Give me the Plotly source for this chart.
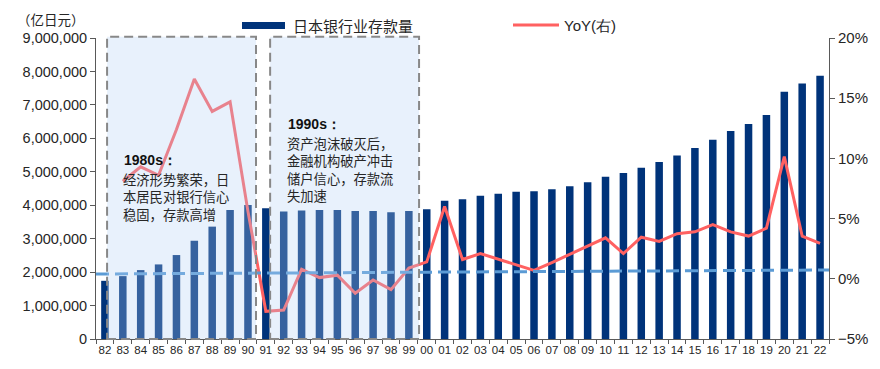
import plotly.graph_objects as go

years = ["82","83","84","85","86","87","88","89","90","91","92","93","94","95","96","97","98","99",
         "00","01","02","03","04","05","06","07","08","09","10","11","12","13","14","15","16","17",
         "18","19","20","21","22"]

deposits = [1740000, 1880000, 2060000, 2230000, 2510000, 2940000, 3360000, 3860000, 4010000,
            3910000, 3810000, 3840000, 3860000, 3860000, 3830000, 3830000, 3790000, 3830000,
            3880000, 4130000, 4180000, 4280000, 4340000, 4400000, 4420000, 4480000, 4570000,
            4690000, 4850000, 4960000, 5120000, 5290000, 5490000, 5710000, 5960000, 6220000,
            6430000, 6700000, 7390000, 7640000, 7870000]

yoy = [None, 8.1, 9.3, 8.6, 12.4, 16.6, 13.9, 14.7, 5.6, -2.7, -2.6, 0.8, 0.1, 0.3, -1.2, -0.1,
       -0.9, 0.9, 1.4, 6.0, 1.6, 2.1, 1.65, 1.15, 0.7, 1.35, 2.05, 2.7, 3.4, 2.1, 3.45, 3.1,
       3.75, 3.9, 4.5, 3.9, 3.55, 4.2, 10.15, 3.55, 2.95]

bar_name = "日本银行业存款量"
line_name = "YoY(右)"
unit_label = "（亿日元）"
note_80s_title = "1980s："
note_80s_lines = ["经济形势繁荣，日", "本居民对银行信心", "稳固，存款高增"]
note_90s_title = "1990s："
note_90s_lines = ["资产泡沫破灭后，", "金融机构破产冲击", "储户信心，存款流", "失加速"]

NAVY = "#00337A"
RED = "#FF6161"
AX = "#595959"
TXT = "#262626"
FONT = "Liberation Sans, Arial, sans-serif"
CJK = "Noto Sans CJK SC, sans-serif"

# page offset (default body margin) and plot-area geometry in page pixels
OFF = 8
W, H = 880 - OFF, 369 - OFF
L, R, T, B = 96, 829, 38, 339
def px_x(p):
    return (p - L) / (R - L)
def px_y(p):
    return (B - p) / (B - T)

fig = go.Figure()
fig.add_trace(go.Bar(x=years, y=deposits, name=bar_name, marker_color=NAVY,
                     marker_line_width=0, yaxis="y", showlegend=False))
fig.add_trace(go.Scatter(x=years, y=yoy, name=line_name, mode="lines",
                         line=dict(color=RED, width=3), yaxis="y2", showlegend=False))

shapes = []
shapes.append(dict(type="line", xref="paper", yref="y", x0=0, x1=1, y0=1944000, y1=2063000,
                   line=dict(color="#5B9BD5", width=3, dash="13px,6px"), layer="above"))
for x0, x1 in [(0.12, 8.45), (9.24, 17.57)]:
    shapes.append(dict(type="rect", xref="x", yref="paper", x0=x0, x1=x1, y0=0, y1=1.004,
                       fillcolor="rgba(180,210,245,0.3)",
                       line=dict(color="#888888", width=2, dash="9px,5px"), layer="above"))
shapes.append(dict(type="rect", xref="paper", yref="paper", x0=px_x(242), x1=px_x(285),
                   y0=px_y(29), y1=px_y(22), fillcolor=NAVY, line=dict(width=0)))
shapes.append(dict(type="line", xref="paper", yref="paper", x0=px_x(513), x1=px_x(559),
                   y0=px_y(25), y1=px_y(25), line=dict(color=RED, width=3)))

annotations = [
    dict(xref="paper", yref="paper", x=px_x(291), y=px_y(26), text=bar_name, showarrow=False,
         xanchor="left", yanchor="middle", font=dict(family=CJK, size=15, color=TXT)),
    dict(xref="paper", yref="paper", x=px_x(562), y=px_y(25), text=line_name, showarrow=False,
         xanchor="left", yanchor="middle", font=dict(family=FONT, size=15, color=TXT)),
    dict(xref="paper", yref="paper", x=px_x(15), y=px_y(19), text=unit_label, showarrow=False,
         xanchor="left", yanchor="middle", font=dict(family=CJK, size=13.5, color=TXT)),
]

def add_note(x_px, y_title_px, y_first_px, title, lines, size):
    annotations.append(dict(xref="paper", yref="paper", x=px_x(x_px), y=px_y(y_title_px),
                            text="<b>" + title + "</b>", showarrow=False, xanchor="left",
                            yanchor="middle", borderpad=0,
                            font=dict(family=FONT, size=14, color="#111111")))
    annotations.append(dict(xref="paper", yref="paper", x=px_x(x_px - 1), y=px_y(y_first_px - 9),
                            text="<br>".join(lines), showarrow=False, align="left",
                            xanchor="left", yanchor="top", borderpad=0,
                            font=dict(family=CJK, size=size, color=TXT)))

add_note(123, 160, 177.5, note_80s_title, note_80s_lines, 13.3)
add_note(287, 124, 142, note_90s_title, note_90s_lines, 13.3)

fig.update_layout(
    width=W, height=H,
    margin=dict(l=L - OFF, r=W - (R - OFF), t=T - OFF, b=H - (B - OFF), autoexpand=False),
    paper_bgcolor="white", plot_bgcolor="white",
    bargap=0.58,
    shapes=shapes, annotations=annotations,
    xaxis=dict(type="category", showgrid=False, showline=True, linecolor=AX, linewidth=1,
               ticks="outside", tickson="boundaries", ticklen=4, tickcolor=AX, tickangle=0,
               automargin=False, tickfont=dict(family=FONT, size=11.5, color=TXT),
               range=[-0.5, 40.5]),
    yaxis=dict(range=[0, 9000000], dtick=1000000, tickformat=",", showgrid=False, zeroline=False,
               showline=True, linecolor=AX, linewidth=1, ticks="outside", ticklen=5, tickcolor=AX,
               automargin=False, tickfont=dict(family=FONT, size=14.5, color=TXT)),
    yaxis2=dict(range=[-5, 20], dtick=5, ticksuffix="%", overlaying="y", side="right",
                showgrid=False, zeroline=False, showline=True, linecolor=AX, linewidth=1,
                ticks="outside", ticklen=5, tickcolor=AX, automargin=False,
                tickfont=dict(family=FONT, size=15, color=TXT)),
    showlegend=False,
)

fig.write_html("out.html")
